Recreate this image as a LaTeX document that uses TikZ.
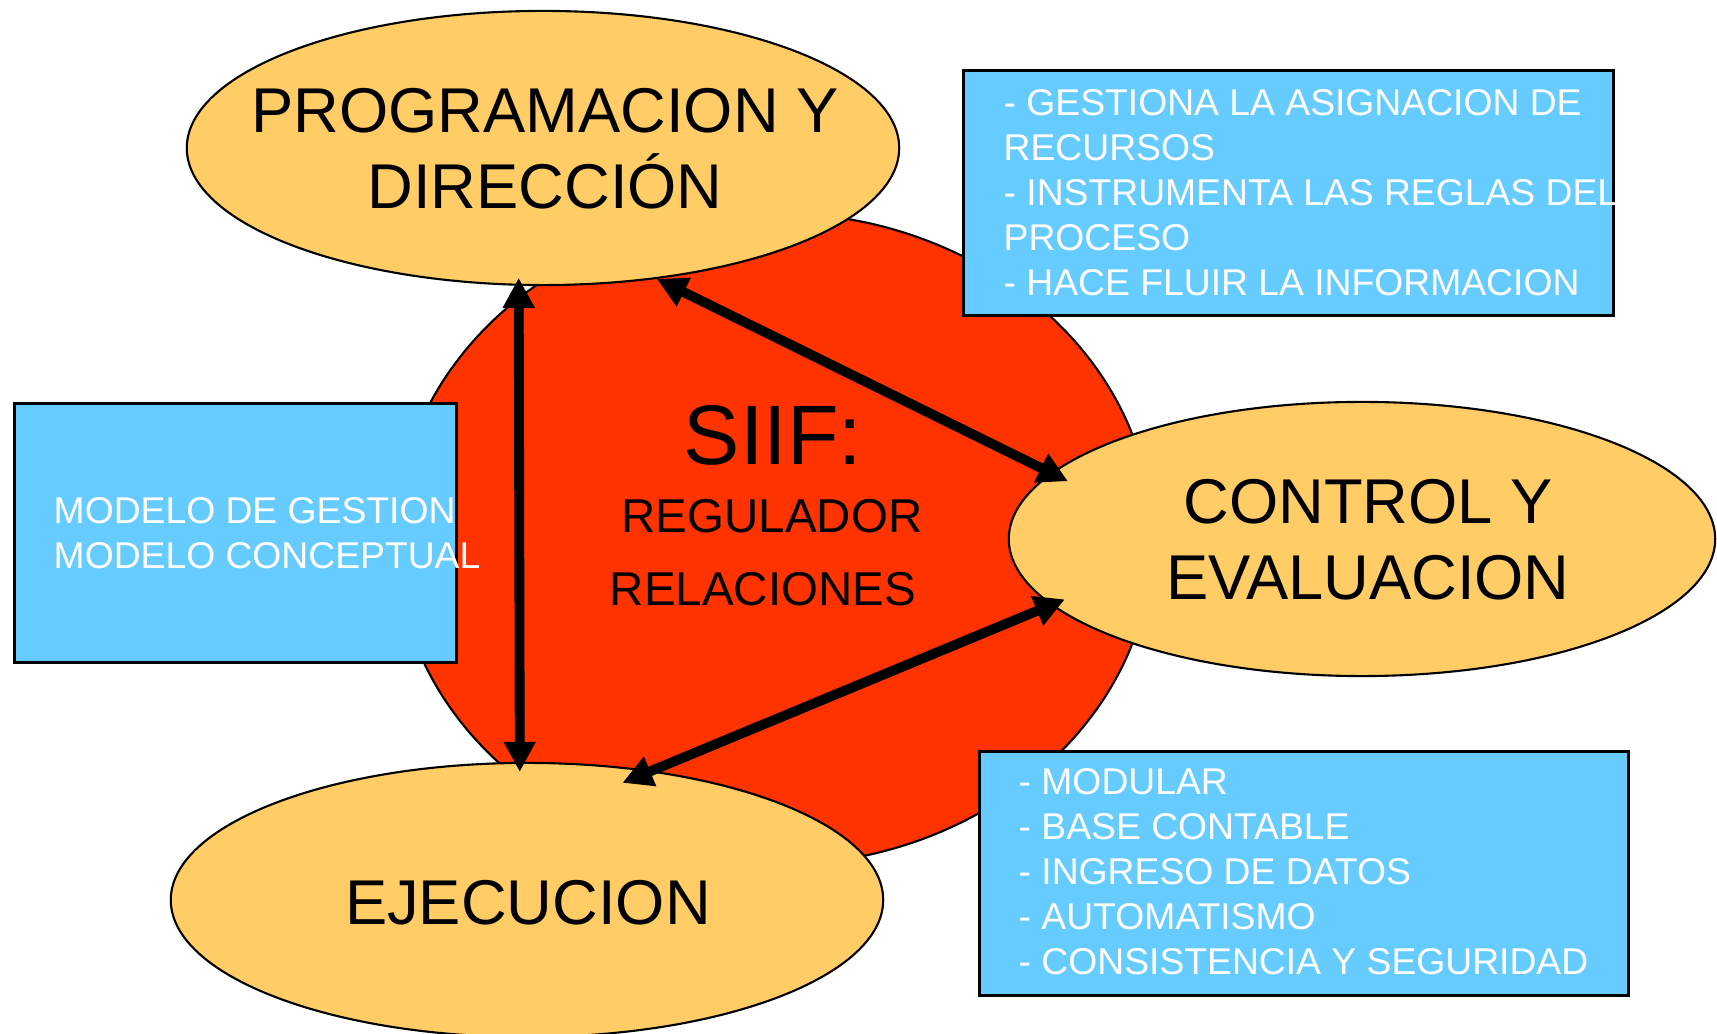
\documentclass[tikz,border=0pt]{standalone}
\usepackage{fontspec}
\setmainfont{Liberation Sans}
\usetikzlibrary{shapes.geometric,arrows.meta}
\definecolor{siifred}{HTML}{FF3300}
\definecolor{ovalfill}{HTML}{FFCC66}
\definecolor{boxfill}{HTML}{66CCFF}

\begin{document}
\begin{tikzpicture}[x=0.01cm,y=-0.01cm,
  core/.style={ellipse,draw=black,line width=0.6pt,fill=siifred,minimum width=7.56cm,minimum height=6.52cm,inner sep=0pt},
  oval/.style={ellipse,draw=black,line width=0.6pt,fill=ovalfill,minimum width=7.12cm,minimum height=2.74cm,inner sep=0pt},
  infobox/.style={rectangle,draw=black,line width=0.8pt,fill=boxfill,inner sep=0pt,anchor=north west},
  ovaltext/.style={align=center,font=\fontsize{18}{21.5}\selectfont,inner sep=0pt},
  boxtext/.style={align=left,text=white,font=\fontsize{10.6}{12.8}\selectfont,inner sep=0pt,anchor=west},
  link/.style={{Triangle[length=0.3cm,width=0.3cm]}-{Triangle[length=0.3cm,width=0.3cm]},line width=2.8pt}]
\useasboundingbox (0,0) rectangle (1717,1034);
%Central Shape
\node at (774,539) [core] (siif) {};
%Info Boxes
\node at (962,69) [infobox,minimum width=6.5cm,minimum height=2.45cm] (gestbox) {};
\node at (13,402) [infobox,minimum width=4.42cm,minimum height=2.59cm] (modbox) {};
\node at (978,750) [infobox,minimum width=6.49cm,minimum height=2.44cm] (caracbox) {};
%Ovals
\node at (543,148) [oval] (prog) {};
\node at (1362,539) [oval,minimum width=7.06cm] (ctrl) {};
\node at (527,900) [oval] (ejec) {};
%Oval Labels
\node at (545,149) [ovaltext] (progtxt) {PROGRAMACION Y\\DIRECCIÓN};
\node at (1368,540) [ovaltext] (ctrltxt) {CONTROL Y\\EVALUACION};
\node at (528,903) [ovaltext] (ejectxt) {EJECUCION};
%Centre Labels
\node at (773,465) [anchor=base,inner sep=0pt,font=\fontsize{24}{28}\selectfont] (siiftxt) {SIIF:};
\node at (772,533) [anchor=base,inner sep=0pt,font=\fontsize{13.5}{16}\selectfont] (regtxt) {REGULADOR};
\node at (763,606) [anchor=base,inner sep=0pt,font=\fontsize{13.5}{16}\selectfont] (reltxt) {RELACIONES};
%Box Labels
\node at (1003,193) [boxtext] (gesttxt) {- GESTIONA LA ASIGNACION DE\\RECURSOS\\- INSTRUMENTA LAS REGLAS DEL\\PROCESO\\- HACE FLUIR LA INFORMACION};
\node at (53,533) [boxtext] (modtxt) {MODELO DE GESTION\\MODELO CONCEPTUAL};
\node at (1018,872) [boxtext] (caractxt) {- MODULAR\\- BASE CONTABLE\\- INGRESO DE DATOS\\- AUTOMATISMO\\- CONSISTENCIA Y SEGURIDAD};
%Connections
\draw [link,shorten <=-0.08cm,shorten >=-0.1cm] (prog.260) -- (ejec.93.3);
\draw [link,shorten >=-0.19cm] (prog.311) -- (ctrl.168.3);
\draw [link,shorten <=-0.32cm,shorten >=-0.15cm] (ejec.46) -- (ctrl.192.3);
\end{tikzpicture}
\end{document}
